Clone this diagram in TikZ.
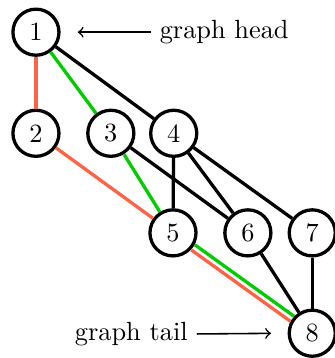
\documentclass[tikz,border=0pt]{standalone}
\definecolor{pathred}{RGB}{255,99,71}
\definecolor{pathgreen}{RGB}{0,204,0}
\begin{document}
\begin{tikzpicture}[vertex/.style={draw,circle,line width=1.25pt,minimum size=17.5pt,inner sep=0pt},
    edge/.style={line width=1.25pt},
    pointer/.style={->,semithick}]
    \useasboundingbox (0,0) rectangle (4.461,-4.781);
    \foreach \n/\x/\y in {1/0.48/-0.43,2/0.48/-1.78,3/1.48/-1.78,4/2.32/-1.78,5/2.31/-3.11,6/3.31/-3.11,7/4.17/-3.11,8/4.17/-4.45}
        \node[vertex] (n\n) at (\x,\y) {\n};
    \foreach \a/\b in {1/4,3/6,4/5,4/6,4/7,6/8,7/8} \draw[edge] (n\a) -- (n\b);
    \draw[edge,pathred] (n1) -- (n2);
    \draw[edge,pathred] (n2) -- (n5);
    \draw[edge,pathgreen] (n1) -- (n3);
    \draw[edge,pathgreen] (n3) -- (n5);
    \draw[edge,pathgreen,transform canvas={shift={(0.7pt,0.95pt)}}] (n5) -- (n8);
    \draw[edge,pathred,transform canvas={shift={(-0.7pt,-0.95pt)}}] (n5) -- (n8);
    % labels
    \node[right] (head) at (2.01,-0.43) {graph head};
    \node[left] (tail) at (2.63,-4.46) {graph tail};
    \draw[pointer,shorten >=6.5pt] (head.west) -- (n1.east);
    \draw[pointer,shorten >=6.3pt] (tail.east) -- (n8.west);
\end{tikzpicture}
\end{document}
